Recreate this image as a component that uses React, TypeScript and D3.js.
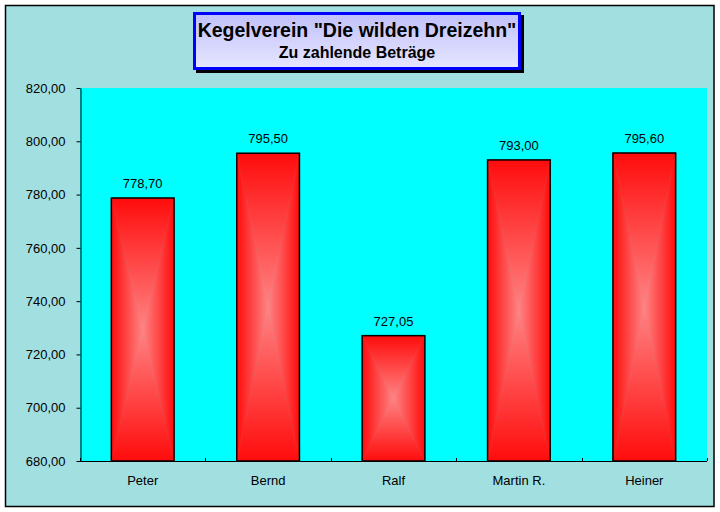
import { useEffect, useRef } from "react";
import * as d3 from "d3";

const names = ["Peter", "Bernd", "Ralf", "Martin R.", "Heiner"];
const amounts = [778.7, 795.5, 727.05, 793.0, 795.6];
const yTicks = [680, 700, 720, 740, 760, 780, 800, 820];

const title = 'Kegelverein "Die wilden Dreizehn"';
const subtitle = "Zu zahlende Beträge";

const fmt = (v: number) => d3.format(".2f")(v).replace(".", ",");

const App = () => {
  const chartRef = useRef<HTMLDivElement>(null);

  useEffect(() => {
    if (!chartRef.current) return;
    const width = 720;
    const height = 512;
    const plot = { left: 80, right: 707, top: 88, bottom: 461 };
    const font = "'Liberation Sans', Arial, sans-serif";
    const edgeRed = "#ff0c0c";
    const centerRed = "#ff8383";

    d3.select(chartRef.current).html("");

    const svg = d3
      .select(chartRef.current)
      .append("svg")
      .attr("width", width)
      .attr("height", height)
      .style("display", "block");

    const defs = svg.append("defs");

    // title box fill
    const tg = defs
      .append("linearGradient")
      .attr("id", "titleFill")
      .attr("x1", 0)
      .attr("y1", 0)
      .attr("x2", 0)
      .attr("y2", 1);
    tg.append("stop").attr("offset", "0%").attr("stop-color", "#c0c0fa");
    tg.append("stop").attr("offset", "100%").attr("stop-color", "#e6e6ff");

    // rectangular gradient made of four triangles, one gradient per side
    const sides: [string, number, number, number, number][] = [
      ["gTop", 0, 0, 0, 1],
      ["gBottom", 0, 1, 0, 0],
      ["gLeft", 0, 0, 1, 0],
      ["gRight", 1, 0, 0, 0],
    ];
    sides.forEach(([id, x1, y1, x2, y2]) => {
      const g = defs
        .append("linearGradient")
        .attr("id", id)
        .attr("x1", x1)
        .attr("y1", y1)
        .attr("x2", x2)
        .attr("y2", y2);
      g.append("stop").attr("offset", "0%").attr("stop-color", edgeRed);
      g.append("stop").attr("offset", "100%").attr("stop-color", centerRed);
    });

    // outer background
    svg
      .append("rect")
      .attr("x", 5.5)
      .attr("y", 5.5)
      .attr("width", 708.5)
      .attr("height", 501)
      .attr("fill", "#a2dfe0")
      .attr("stroke", "#000")
      .attr("stroke-width", 1.5);

    // plot area
    svg
      .append("rect")
      .attr("x", plot.left)
      .attr("y", plot.top)
      .attr("width", plot.right - plot.left)
      .attr("height", plot.bottom - plot.top)
      .attr("fill", "#00ffff");

    const xScale = d3
      .scaleBand()
      .domain(names)
      .range([plot.left, plot.right])
      .paddingInner(0.5)
      .paddingOuter(0.25);

    const yScale = d3
      .scaleLinear()
      .domain([680, 820])
      .range([plot.bottom, plot.top]);

    // bars
    const bars = svg.append("g");
    names.forEach((n, i) => {
      const x = xScale(n) as number;
      const y = yScale(amounts[i]);
      const w = xScale.bandwidth();
      const h = plot.bottom - y;
      const cx = x + w / 2;
      const cy = y + h / 2;
      const tris: [string, [number, number][]][] = [
        ["gTop", [[x, y], [x + w, y], [cx, cy]]],
        ["gBottom", [[x, y + h], [x + w, y + h], [cx, cy]]],
        ["gLeft", [[x, y], [x, y + h], [cx, cy]]],
        ["gRight", [[x + w, y], [x + w, y + h], [cx, cy]]],
      ];
      tris.forEach(([id, pts]) => {
        bars
          .append("path")
          .attr("d", d3.line()(pts) + "Z")
          .attr("fill", `url(#${id})`)
          .attr("stroke", `url(#${id})`)
          .attr("stroke-width", 0.6);
      });
      bars
        .append("rect")
        .attr("x", x)
        .attr("y", y)
        .attr("width", w)
        .attr("height", h)
        .attr("fill", "none")
        .attr("stroke", "#000")
        .attr("stroke-width", 1.5);
      bars
        .append("text")
        .attr("x", cx)
        .attr("y", y - 10)
        .attr("text-anchor", "middle")
        .style("font-family", font)
        .style("font-size", "13px")
        .text(fmt(amounts[i]));
    });

    // y axis
    const yAxis = svg
      .append("g")
      .attr("transform", `translate(${plot.left + 0.5},0)`)
      .call(
        d3
          .axisLeft(yScale)
          .tickValues(yTicks)
          .tickSize(4)
          .tickSizeOuter(0)
          .tickPadding(11)
          .tickFormat((d) => fmt(d as number))
      );
    yAxis.selectAll("text").style("font-family", font).style("font-size", "13px").attr("fill", "#000");
    yAxis.selectAll("line,path").attr("stroke", "#000");

    // x axis with ticks between categories
    const step = (plot.right - plot.left) / names.length;
    const xg = svg.append("g");
    xg.append("line")
      .attr("x1", plot.left)
      .attr("x2", plot.right)
      .attr("y1", plot.bottom + 0.5)
      .attr("y2", plot.bottom + 0.5)
      .attr("stroke", "#000");
    d3.range(names.length + 1).forEach((k) => {
      const xx = Math.round(plot.left + k * step) + 0.5;
      xg.append("line")
        .attr("x1", xx)
        .attr("x2", xx)
        .attr("y1", plot.bottom)
        .attr("y2", plot.bottom - 3)
        .attr("stroke", "#000");
    });
    names.forEach((n) => {
      xg.append("text")
        .attr("x", (xScale(n) as number) + xScale.bandwidth() / 2)
        .attr("y", 485)
        .attr("text-anchor", "middle")
        .style("font-family", font)
        .style("font-size", "13px")
        .text(n);
    });

    // title box
    const tb = { x: 193, y: 12, w: 328, h: 58 };
    svg
      .append("rect")
      .attr("x", tb.x + 3)
      .attr("y", tb.y + 3)
      .attr("width", tb.w)
      .attr("height", tb.h)
      .attr("fill", "#000");
    svg
      .append("rect")
      .attr("x", tb.x + 1.5)
      .attr("y", tb.y + 1.5)
      .attr("width", tb.w - 3)
      .attr("height", tb.h - 3)
      .attr("fill", "url(#titleFill)")
      .attr("stroke", "#0000ff")
      .attr("stroke-width", 3);
    svg
      .append("text")
      .attr("x", tb.x + tb.w / 2)
      .attr("y", 37)
      .attr("text-anchor", "middle")
      .style("font-family", font)
      .style("font-size", "19.5px")
      .style("font-weight", "bold")
      .text(title);
    svg
      .append("text")
      .attr("x", tb.x + tb.w / 2)
      .attr("y", 58)
      .attr("text-anchor", "middle")
      .style("font-family", font)
      .style("font-size", "16px")
      .style("font-weight", "bold")
      .text(subtitle);
  }, []);

  return (
    <div
      ref={chartRef}
      style={{ position: "absolute", left: 0, top: 0 }}
    ></div>
  );
};

export default App;
